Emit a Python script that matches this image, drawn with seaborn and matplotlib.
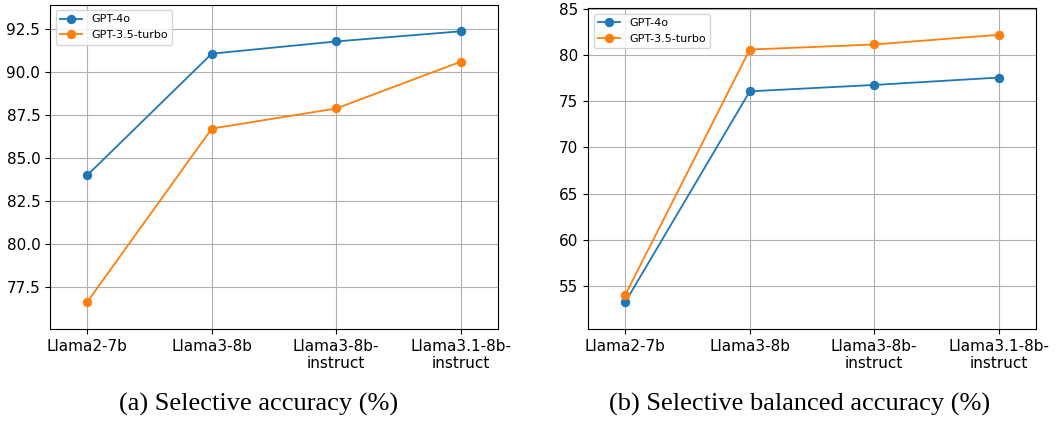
import pandas as pd
import matplotlib.pyplot as plt
import seaborn as sns

models = ['Llama2-7b', 'Llama3-8b', 'Llama3-8b-\ninstruct', 'Llama3.1-8b-\ninstruct']
series = ['GPT-4o', 'GPT-3.5-turbo']
colors = ['#1f77b4', '#ff7f0e']

# (a) selective accuracy
acc_gpt4o = [84.0, 91.07, 91.78, 92.37]
acc_gpt35 = [76.63, 86.71, 87.88, 90.6]

# (b) selective balanced accuracy
bacc_gpt4o = [53.27, 76.08, 76.77, 77.57]
bacc_gpt35 = [54.05, 80.6, 81.15, 82.2]

plt.rcParams['font.family'] = ['DejaVu Sans']

fig = plt.figure(figsize=(10.64, 4.24), dpi=100)
ax1 = fig.add_axes([50 / 1064, 1 - 329 / 424, 448 / 1064, 324.5 / 424])
ax2 = fig.add_axes([588 / 1064, 1 - 329 / 424, 448 / 1064, 321 / 424])


def draw(ax, vals_a, vals_b, ylim):
    for name, vals, col in zip(series, [vals_a, vals_b], colors):
        df = pd.DataFrame({'model': models, 'val': vals})
        sns.lineplot(data=df, x='model', y='val', sort=False, marker='o', color=col,
                     markeredgecolor=col, markersize=6, linewidth=1.3, label=name, ax=ax)
    ax.set_ylim(*ylim)
    ax.set_xlim(-0.3, 3.3)
    ax.grid(True, color='#b0b0b0', linewidth=0.8)
    ax.set_xlabel('')
    ax.set_ylabel('')
    ax.tick_params(labelsize=11)
    ax.legend(loc='upper left', fontsize=8)


draw(ax1, acc_gpt4o, acc_gpt35, (75.05, 93.93))
draw(ax2, bacc_gpt4o, bacc_gpt35, (50.35, 85.1))

fig.text(259 / 1064, 1 - 404 / 424, '(a) Selective accuracy (%)', ha='center', va='center',
         fontsize=19, family='Liberation Serif')
fig.text(800 / 1064, 1 - 404 / 424, '(b) Selective balanced accuracy (%)', ha='center', va='center',
         fontsize=19, family='Liberation Serif')

fig.savefig('out.png', dpi=100)
